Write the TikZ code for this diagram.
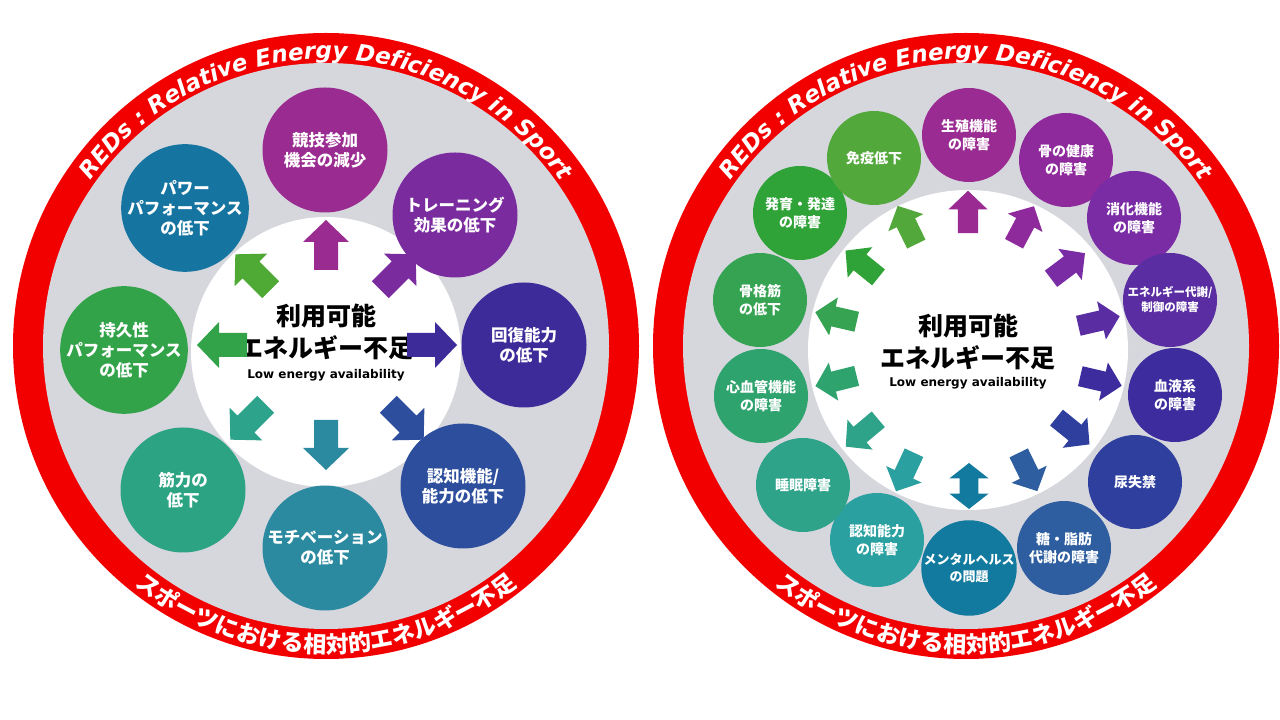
\documentclass[tikz,border=0pt]{standalone}
\usepackage{fontspec}
\setmainfont{Noto Sans CJK JP}
\newfontfamily\enf{DejaVu Sans}
\usetikzlibrary{decorations.text}
\definecolor{rd}{HTML}{F20000}
\definecolor{gy}{HTML}{D6D6DD}
\definecolor{L1}{HTML}{9A2B90}\definecolor{L2}{HTML}{7A2C9F}\definecolor{L3}{HTML}{3D2B9A}\definecolor{L4}{HTML}{2C4E9C}
\definecolor{L5}{HTML}{2B8AA0}\definecolor{L6}{HTML}{2CA383}\definecolor{L7}{HTML}{33A34A}\definecolor{L8}{HTML}{1574A0}
\definecolor{L6a}{HTML}{2CA38A}\definecolor{L8a}{HTML}{4FAA35}
\definecolor{R1}{HTML}{9A2B92}\definecolor{R2}{HTML}{8E2A9C}\definecolor{R3}{HTML}{7A2CA5}\definecolor{R4}{HTML}{5B2DA2}
\definecolor{R5}{HTML}{3C2C9D}\definecolor{R6}{HTML}{2F3F9E}\definecolor{R7}{HTML}{2E5E9F}\definecolor{R8}{HTML}{117A9E}
\definecolor{R9}{HTML}{2AA0A0}\definecolor{R10}{HTML}{2EA38A}\definecolor{R11}{HTML}{2FA36E}\definecolor{R12}{HTML}{36A352}
\definecolor{R13}{HTML}{2FA337}\definecolor{R14}{HTML}{52A83A}
\newcommand\blkarr[5]{% x,y,angle,color,scale
 \fill[#4,shift={(#1,#2)},rotate=#3,scale=#5] (-25,-12)--(3,-12)--(3,-23)--(25,0)--(3,23)--(3,12)--(-25,12)--cycle;}
\tikzset{x=1pt,y=1pt,
 bubL/.style={circle,minimum size=125pt,inner sep=0,fill=#1,text=white,font=\bfseries\fontsize{16.5}{20}\selectfont,align=center},
 bubR/.style={circle,minimum size=94pt,inner sep=0,fill=#1,text=white,font=\bfseries\fontsize{14}{18}\selectfont,align=center},
 ctr/.style={font=\bfseries\fontsize{25}{32}\selectfont,align=center},
 low/.style={font=\enf\bfseries\fontsize{12}{14}\selectfont}}
\begin{document}
\begin{tikzpicture}
\useasboundingbox (0,0) rectangle (1280,720);
\fill[white] (0,0) rectangle (1280,720);
\foreach \cx in {326,966}{
 \fill[rd] (\cx,374) circle (313);
 \fill[gy] (\cx,374) circle (283);
 \path[decorate,decoration={text along path,text align=center,text color=white,
   text={|\enf\bfseries\itshape\fontsize{23}{23}\selectfont|REDs : Relative Energy Deficiency in Sport}}]
   (\cx,374) ++(156:287) arc[start angle=156,end angle=24,radius=287];
 \path[decorate,decoration={text along path,text align=center,text color=white,
   text={|\bfseries\fontsize{23}{23}\selectfont|スポーツにおける相対的エネルギー不足}}]
   (\cx,374) ++(230:307) arc[start angle=230,end angle=310,radius=307];
}
% left
\fill[white] (326,368) circle (135);
\node[ctr] (cL) at (326,388) {利用可能\\エネルギー不足};
\node[low] (lL) at (326,345) {Low energy availability};
\node[bubL=L1] (b1) at (325,570) {競技参加\\機会の減少};
\node[bubL=L2] (b2) at (455,505) {トレーニング\\効果の低下};
\node[bubL=L3] (b3) at (524,375) {回復能力\\の低下};
\node[bubL=L4] (b4) at (463,234) {認知機能/\\能力の低下};
\node[bubL=L5] (b5) at (325,172) {モチベーション\\の低下};
\node[bubL=L6] (b6) at (183,230) {筋力の\\低下};
\node[bubL=L7] (b7) at (124,370) {持久性\\パフォーマンス\\の低下};
\node[bubL=L8] (b8) at (185,512) {パワー\\パフォーマンス\\の低下};
\blkarr{326}{475}{90}{L1}{1}
\blkarr{398}{448}{45}{L2}{1}
\blkarr{432}{375}{0}{L3}{1}
\blkarr{406}{298}{-45}{L4}{1}
\blkarr{326}{275}{-90}{L5}{1}
\blkarr{248}{298}{-135}{L6a}{1}
\blkarr{222}{375}{180}{L7}{1}
\blkarr{253}{448}{135}{L8a}{1}
% right
\fill[white] (968,370) circle (160);
\node[ctr] (cR) at (968,378) {利用可能\\エネルギー不足};
\node[low] (lR) at (968,337) {Low energy availability};
\node[bubR=R1] (r1) at (969,585) {生殖機能\\の障害};
\node[bubR=R2] (r2) at (1066,560) {骨の健康\\の障害};
\node[bubR=R3] (r3) at (1134,502) {消化機能\\の障害};
\node[bubR=R4,font=\bfseries\fontsize{11.5}{15}\selectfont] (r4) at (1170,420) {エネルギー代謝/\\制御の障害};
\node[bubR=R5] (r5) at (1175,325) {血液系\\の障害};
\node[bubR=R6] (r6) at (1135,238) {尿失禁};
\node[bubR=R7] (r7) at (1064,172) {糖・脂肪\\代謝の障害};
\node[bubR=R8,font=\bfseries\fontsize{13}{17}\selectfont] (r8) at (969,152) {メンタルヘルス\\の問題};
\node[bubR=R9] (r9) at (877,180) {認知能力\\の障害};
\node[bubR=R10] (r10) at (803,235) {睡眠障害};
\node[bubR=R11] (r11) at (761,324) {心血管機能\\の障害};
\node[bubR=R12] (r12) at (760,420) {骨格筋\\の低下};
\node[bubR=R13] (r13) at (800,507) {発育・発達\\の障害};
\node[bubR=R14] (r14) at (874,562) {免疫低下};
\blkarr{968}{508}{90}{R1}{0.85}
\blkarr{1024}{495}{62}{R2}{0.85}
\blkarr{1068}{454}{37}{R3}{0.85}
\blkarr{1099}{399}{13}{R4}{0.85}
\blkarr{1101}{339}{-13}{R5}{0.85}
\blkarr{1073}{289}{-39}{R6}{0.85}
\blkarr{1028}{248}{-64}{R7}{0.85}
\fill[R8,shift={(969,234)},rotate=90,scale=0.85] (-27,0)--(-9,-23)--(-9,-11)--(9,-11)--(9,-23)--(27,0)--(9,23)--(9,11)--(-9,11)--(-9,23)--cycle;
\blkarr{905}{248}{-115}{R9}{0.85}
\blkarr{862}{287}{-140}{R10}{0.85}
\blkarr{836}{339}{-166}{R11}{0.85}
\blkarr{836}{403}{167}{R12}{0.85}
\blkarr{862}{456}{141}{R13}{0.85}
\blkarr{907}{495}{116}{R14}{0.85}
\end{tikzpicture}
\end{document}
